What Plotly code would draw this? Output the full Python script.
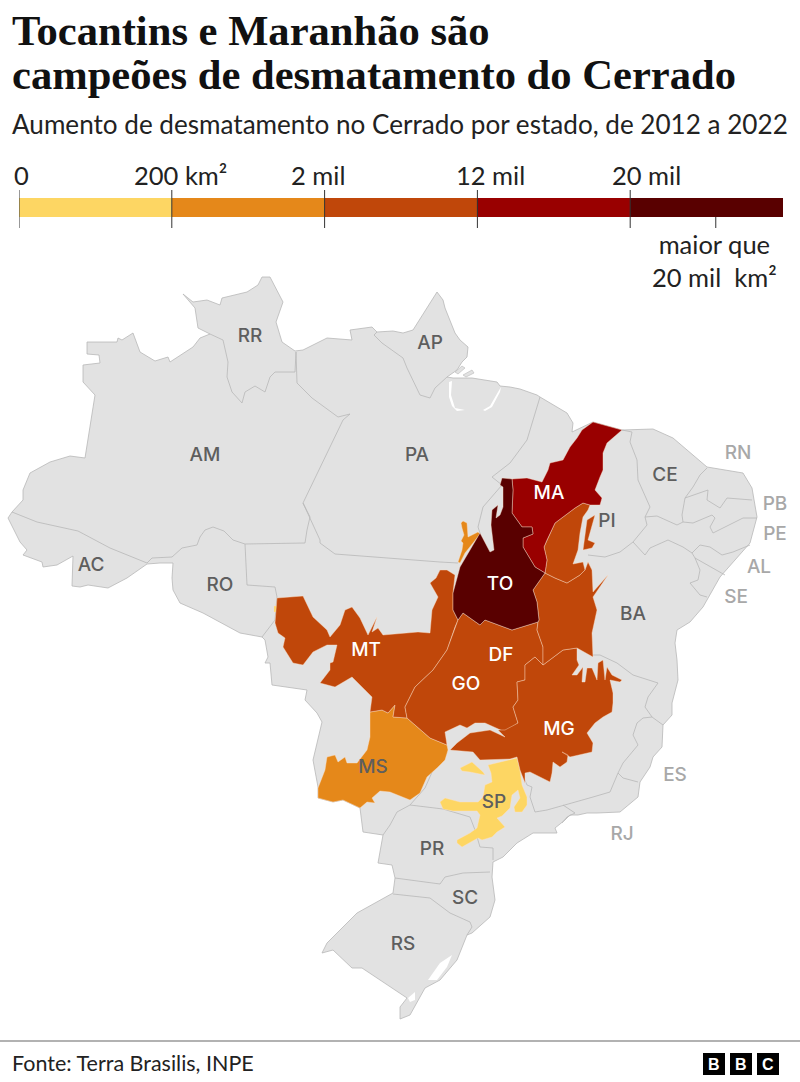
import plotly.graph_objects as go

# legend bins
LEGEND_LABELS = ["0", "200 km²", "2 mil", "12 mil", "20 mil"]
LEGEND_BINS = [1, 1, 1, 1, 1]
LEGEND_COLORS = ["#fdd663", "#e5881a", "#c0470a", "#990000", "#590000"]
LEGEND_BREAKS = [0, 1, 2, 3, 4]

# state labels
LABEL_NAMES = ["AM", "RR", "AP", "PA", "AC", "RO", "MS", "SP", "PR", "SC", "RS", "BA", "PI", "CE"]
LABEL_X = [205, 250, 430, 417, 91, 220, 373, 494, 432, 465, 403, 633, 607, 665]
LABEL_Y = [456, 337, 344, 456, 566, 586, 768, 803, 850, 899, 945, 615, 522, 476]
WHITE_NAMES = ["MT", "MA", "TO", "GO", "DF", "MG"]
WHITE_X = [366, 549, 500, 466, 501, 559]
WHITE_Y = [651, 494, 585, 685, 656, 730]
PALE_NAMES = ["RN", "PB", "PE", "AL", "SE", "ES", "RJ"]
PALE_X = [738, 775, 775, 759, 736, 675, 622]
PALE_Y = [454, 505, 535, 568, 598, 776, 835]

# map outlines in map units
BRAZIL = [(8,518),(12,512),(23,500),(23,490),(30,473),(50,462),(70,456),(85,458),(95,395),(83,382),(83,365),(100,363),(99,355),(87,354),(87,342),(117,342),(118,338),(122,340),(133,333),(140,352),(155,361),(168,357),(170,362),(193,347),(200,338),(210,334),(198,328),(195,308),(183,294),(193,302),(207,300),(220,305),(222,298),(247,292),(258,285),(262,277),(270,277),(275,287),(283,302),(276,322),(282,342),(295,351),(303,350),(327,338),(352,340),(350,330),(372,327),(377,332),(393,331),(403,333),(413,330),(437,292),(443,300),(445,308),(455,333),(460,340),(468,347),(467,357),(462,362),(457,370),(447,377),(453,378),(472,378),(497,382),(500,386),(510,387),(520,389),(537,395),(540,397),(567,413),(573,423),(572,432),(593,422),(622,430),(653,429),(673,438),(707,467),(743,473),(752,488),(757,517),(750,543),(720,577),(703,607),(690,622),(677,630),(675,643),(677,660),(678,680),(672,703),(672,715),(663,725),(662,747),(653,757),(650,767),(640,782),(638,797),(620,812),(597,813),(587,813),(578,815),(570,815),(565,820),(555,828),(557,833),(533,833),(517,843),(503,857),(493,862),(492,877),(495,900),(490,917),(472,933),(467,935),(457,960),(440,980),(425,988),(410,1015),(400,1019),(400,1007),(407,998),(390,987),(362,968),(352,968),(333,950),(322,953),(327,943),(357,913),(393,893),(395,878),(392,865),(378,863),(383,835),(363,832),(360,808),(343,800),(333,802),(318,798),(318,787),(313,760),(322,722),(317,713),(305,700),(307,690),(272,685),(270,663),(265,663),(268,657),(265,640),(262,637),(240,633),(203,613),(180,603),(173,590),(172,578),(173,563),(160,563),(147,564),(127,578),(108,588),(88,585),(80,587),(72,586),(73,556),(57,565),(43,567),(42,562),(23,555),(27,550),(20,542),(13,528),(8,518)]
ISLAND_1 = [(455,372),(462,366),(465,368),(458,374),(455,372)]
ISLAND_2 = [(463,375),(472,370),(474,373),(466,377),(463,375)]

BORDERS = [
    [(12,512),(37,522),(78,531),(110,548),(147,563)],
    [(147,563),(152,558),(172,557),(182,548),(197,545),(200,537),(205,530),(213,527),(224,531),(233,540),(245,544)],
    [(245,544),(247,585),(275,587),(277,597),(275,620),(262,637)],
    [(245,544),(305,543)],
    [(296,352),(297,383),(312,398),(338,417),(350,414),(343,420),(303,503),(310,517),(307,530),(305,543)],
    [(210,334),(223,340),(228,362),(227,377),(232,392),(242,403),(245,392),(255,386),(265,392),(270,377),(275,372),(295,372),(296,352)],
    [(303,503),(320,540),(320,543),(335,554),(440,562),(458,563)],
    [(377,332),(374,335),(382,343),(403,358),(407,368),(420,395),(430,398),(435,388),(447,377)],
    [(540,397),(527,440),(510,463),(492,477),(502,485),(483,507),(478,527),(480,533)],
    [(622,430),(632,432),(630,442),(637,460),(638,480),(650,507),(645,517),(647,525),(633,542),(620,552),(605,557),(588,555)],
    [(645,517),(657,516),(677,525),(683,522),(693,523),(712,515),(715,518),(710,527),(713,533),(743,518),(757,518)],
    [(633,542),(645,555),(650,548),(668,540),(683,547),(692,553),(700,545),(710,547),(722,555),(733,552),(750,545)],
    [(692,553),(695,558),(725,575)],
    [(695,558),(700,570),(698,580),(690,583),(700,595),(707,597)],
    [(707,468),(700,475),(693,487),(685,498),(682,515),(683,522)],
    [(685,498),(708,490),(707,500),(720,508),(727,498),(752,500)],
    [(593,655),(600,655),(617,663),(633,675),(658,683),(648,697),(645,707),(652,717),(663,725)],
    [(652,717),(643,718),(637,723),(633,735),(638,745),(623,763),(618,773),(610,792),(593,797),(563,805),(547,810),(535,812),(530,797),(532,787),(527,785),(522,773)],
    [(618,773),(623,778),(638,782)],
    [(563,805),(575,813),(567,817),(562,823)],
    [(447,753),(433,770),(425,788),(410,805),(397,812),(390,825),(383,835)],
    [(410,805),(443,809),(470,817),(475,830),(480,847),(493,848),(493,860)],
    [(395,878),(440,884),(445,877),(463,873),(490,872)],
    [(393,894),(430,898),(450,913),(470,922),(472,927),(467,935)],
]

WATER = [
    [(449,382),(452,381),(451,395),(455,408),(465,410),(457,411),(452,406),(449,397)],
    [(483,410),(490,406),(498,392),(501,387),(500,392),(492,407),(485,411)],
    [(428,980),(440,963),(452,955),(447,967),(437,980)],
    [(408,998),(415,992),(415,1000),(410,1002)],
]

TO = [(502,478),(512,479),(513,490),(512,513),(522,527),(532,527),(533,534),(523,538),(523,547),(535,567),(545,573),(533,590),(537,602),(539,620),(538,622),(512,630),(485,620),(480,625),(463,613),(458,620),(453,610),(453,593),(460,567),(480,533),(490,552),(494,550),(491,525),(492,510),(498,505),(496,518),(500,515),(503,507),(503,495),(503,487),(500,485),(502,478)]
MA = [(512,479),(527,478),(542,482),(548,470),(550,463),(563,460),(570,447),(577,438),(582,430),(593,422),(622,430),(607,443),(603,453),(603,470),(600,477),(595,490),(602,498),(600,505),(590,505),(583,503),(575,508),(555,523),(547,540),(544,547),(547,560),(545,573),(535,567),(523,547),(523,538),(533,534),(532,527),(522,527),(512,513),(513,490),(512,479)]
PI_MAIN = [(583,503),(590,505),(588,510),(583,517),(580,533),(578,550),(573,564),(583,562),(585,570),(580,575),(567,583),(555,578),(545,573),(547,560),(544,547),(547,540),(555,523),(575,508),(583,503)]
PI_LOBE = [(595,515),(592,527),(588,540),(595,543),(592,548),(583,550),(585,535),(587,520),(595,515)]
BA = [(545,573),(555,578),(567,583),(580,575),(585,570),(588,562),(592,570),(593,592),(608,575),(593,597),(597,610),(592,633),(593,657),(577,648),(563,650),(543,665),(543,647),(537,630),(538,622),(539,620),(537,602),(533,590),(545,573)]
MG = [(543,665),(563,650),(577,648),(577,660),(579,665),(572,675),(577,675),(583,667),(582,682),(585,682),(587,668),(592,668),(597,680),(598,663),(603,660),(605,680),(607,667),(612,675),(622,680),(620,682),(610,680),(613,693),(613,703),(612,712),(603,717),(595,723),(587,733),(593,743),(592,752),(570,757),(562,752),(568,755),(567,762),(560,767),(553,762),(552,773),(550,782),(530,772),(525,773),(525,783),(520,770),(517,757),(510,759),(487,760),(480,760),(473,752),(450,750),(457,743),(470,733),(490,730),(505,737),(498,730),(505,730),(518,723),(513,707),(518,700),(517,682),(525,680),(525,665),(535,657),(543,665)]
GO = [(458,620),(463,613),(480,625),(485,620),(512,630),(538,622),(537,630),(543,647),(543,665),(535,657),(525,665),(525,680),(517,682),(518,700),(513,707),(518,723),(505,732),(485,723),(475,723),(467,728),(460,725),(445,732),(447,745),(430,738),(407,718),(405,707),(415,687),(433,670),(447,650),(455,627),(458,620)]
MT = [(455,575),(453,593),(453,610),(458,620),(455,627),(447,650),(433,670),(415,687),(405,707),(407,718),(393,717),(395,705),(388,713),(382,710),(370,712),(372,697),(365,690),(352,677),(335,687),(327,685),(320,683),(330,670),(330,663),(333,662),(337,645),(327,645),(313,652),(303,665),(293,663),(283,647),(285,638),(278,633),(275,623),(277,598),(303,596),(313,617),(327,630),(330,637),(340,625),(345,610),(352,607),(360,618),(368,635),(377,617),(372,632),(378,628),(383,635),(418,632),(430,633),(432,610),(438,597),(430,583),(436,578),(440,570),(447,570),(455,575)]
MS = [(370,712),(382,710),(388,713),(395,705),(393,717),(407,718),(430,738),(447,745),(448,750),(445,760),(437,768),(427,777),(420,793),(410,800),(390,792),(380,791),(372,798),(375,803),(367,802),(360,808),(343,800),(333,802),(318,798),(318,788),(325,770),(327,757),(335,755),(338,762),(345,757),(347,763),(357,763),(367,750),(370,737),(370,723),(370,712)]
PA_PATCH = [(461,523),(463,521),(467,523),(468,532),(468,537),(478,532),(480,534),(473,543),(465,553),(460,563),(458,562),(462,550),(463,543),(461,541),(464,535),(462,528),(461,523)]
DF = [(499,673),(517,673),(517,683),(499,683),(499,673)]
SP_NORTH = [(460,768),(472,762),(483,772),(485,775),(470,772),(462,771),(460,768)]
SP_MAIN = [(488,765),(500,762),(517,758),(520,770),(522,785),(527,797),(527,805),(522,812),(515,812),(514,807),(520,798),(518,790),(512,795),(510,808),(502,816),(497,818),(505,827),(497,832),(492,837),(482,840),(478,838),(462,847),(457,843),(457,840),(470,833),(477,828),(480,815),(477,811),(453,811),(443,809),(440,802),(445,798),(460,802),(478,802),(483,797),(485,785),(492,782),(491,773),(488,765)]
RO_PATCH = [(274,606),(277,606),(277,612),(274,612),(274,606)]

# which bin each deforested area falls in
AREAS = [
    (SP_NORTH, 0), (SP_MAIN, 0), (DF, 0), (RO_PATCH, 0),
    (MS, 1), (PA_PATCH, 1),
    (MT, 2), (GO, 2), (MG, 2), (BA, 2), (PI_MAIN, 2), (PI_LOBE, 2),
    (MA, 3),
    (TO, 4),
]

SANS = "Lato"
GREY_LINE = "#b8b8b8"
LAND = "#e2e2e2"


def xs(points):
    return [p[0] for p in points]


def ys(points):
    return [p[1] for p in points]


fig = go.Figure()

# country
fig.add_trace(go.Scatter(x=xs(BRAZIL), y=ys(BRAZIL), mode="lines", fill="toself", fillcolor=LAND,
                         line=dict(color=GREY_LINE, width=0.8), hoverinfo="skip"))
for island in [ISLAND_1, ISLAND_2]:
    fig.add_trace(go.Scatter(x=xs(island), y=ys(island), mode="lines", fill="toself", fillcolor=LAND,
                             line=dict(color=GREY_LINE, width=0.6), hoverinfo="skip"))
for water in WATER:
    fig.add_trace(go.Scatter(x=xs(water), y=ys(water), mode="lines", fill="toself", fillcolor="white",
                             line=dict(color="white", width=0), hoverinfo="skip"))
for border in BORDERS:
    fig.add_trace(go.Scatter(x=xs(border), y=ys(border), mode="lines",
                             line=dict(color=GREY_LINE, width=0.8), hoverinfo="skip"))

# deforestation colours
for area, bin_no in AREAS:
    fig.add_trace(go.Scatter(x=xs(area), y=ys(area), mode="lines", fill="toself",
                             fillcolor=LEGEND_COLORS[bin_no],
                             line=dict(color="rgba(255,225,200,0.5)", width=0.8), hoverinfo="skip"))

# state labels
for names, lx, ly, colour in [(LABEL_NAMES, LABEL_X, LABEL_Y, "#5e5e5e"),
                              (WHITE_NAMES, WHITE_X, WHITE_Y, "white"),
                              (PALE_NAMES, PALE_X, PALE_Y, "#a8a8a8")]:
    fig.add_trace(go.Scatter(x=lx, y=ly, mode="text", text=names, textposition="middle center",
                             textfont=dict(family="Inter", size=19, color=colour, weight=500),
                             hoverinfo="skip"))

# colour legend, stacked bar on its own axes
for width, colour in zip(LEGEND_BINS, LEGEND_COLORS):
    fig.add_trace(go.Bar(x=[width], y=[0], orientation="h", width=1, marker=dict(color=colour, line=dict(width=0)),
                         xaxis="x2", yaxis="y2", hoverinfo="skip"))

for b in LEGEND_BREAKS:
    fig.add_shape(type="line", xref="x2", yref="y", x0=b, x1=b, y0=190, y1=228,
                  line=dict(color="#333333", width=1))
fig.add_shape(type="line", xref="x2", yref="y", x0=4.56, x1=4.56, y0=217, y1=228,
              line=dict(color="#333333", width=1))

for b, label, shift in zip(LEGEND_BREAKS, LEGEND_LABELS, [2, 9, -7, 13, 16]):
    fig.add_annotation(xref="x2", yref="y", x=b, y=175, text=label, showarrow=False, xshift=shift,
                       xanchor="center", yanchor="middle", font=dict(family=SANS, size=25.5, color="#222222"))
fig.add_annotation(xref="x", yref="y", x=714, y=260, text="maior que<br>20 mil  km²", showarrow=False,
                   xanchor="center", yanchor="middle", align="center",
                   font=dict(family=SANS, size=25.5, color="#222222"))

# headline texts
fig.add_annotation(xref="x", yref="y", x=10, y=30, text="<b>Tocantins e Maranhão são</b>", showarrow=False,
                   xanchor="left", yanchor="middle", font=dict(family="Liberation Serif", size=42.6, color="#111111"))
fig.add_annotation(xref="x", yref="y", x=10, y=74, text="<b>campeões de desmatamento do Cerrado</b>", showarrow=False,
                   xanchor="left", yanchor="middle", font=dict(family="Liberation Serif", size=42.6, color="#111111"))
fig.add_annotation(xref="x", yref="y", x=10, y=124,
                   text="Aumento de desmatamento no Cerrado por estado, de 2012 a 2022", showarrow=False,
                   xanchor="left", yanchor="middle", font=dict(family=SANS, size=26.1, color="#222222"))

# footer
fig.add_shape(type="line", xref="x", yref="y", x0=0, x1=800, y0=1041, y1=1041, line=dict(color="#999999", width=1.5))
fig.add_annotation(xref="x", yref="y", x=10, y=1063, text="Fonte: Terra Brasilis, INPE", showarrow=False,
                   xanchor="left", yanchor="middle", font=dict(family=SANS, size=21.5, color="#222222"))
for left, letter in zip([703, 730, 757], ["B", "B", "C"]):
    fig.add_shape(type="rect", xref="x", yref="y", x0=left, x1=left + 22, y0=1053, y1=1075,
                  fillcolor="black", line=dict(width=0))
    fig.add_annotation(xref="x", yref="y", x=left + 11, y=1064, text="<b>" + letter + "</b>", showarrow=False,
                       xanchor="center", yanchor="middle", font=dict(family="Liberation Sans", size=16, color="white"))

fig.update_layout(
    width=800, height=1082, autosize=False,
    margin=dict(l=0, r=0, t=0, b=0),
    paper_bgcolor="white", plot_bgcolor="white",
    showlegend=False, barmode="stack", hovermode=False,
    xaxis=dict(range=[0, 800], visible=False, domain=[0, 1]),
    yaxis=dict(range=[1082, 0], visible=False, domain=[0, 1]),
    xaxis2=dict(range=[0, 5], visible=False, domain=[19 / 800, 783 / 800], anchor="y2"),
    yaxis2=dict(range=[-0.5, 0.5], visible=False, domain=[1 - 217 / 1082, 1 - 198 / 1082], anchor="x2"),
)

fig.write_html("out.html", config=dict(displayModeBar=False), post_script="document.body.style.margin='0';")
